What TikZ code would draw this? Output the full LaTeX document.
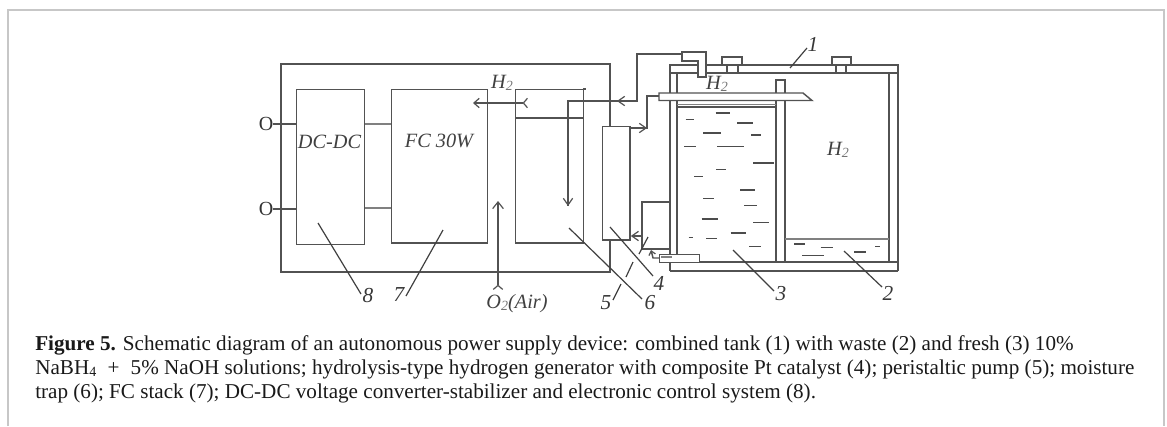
\documentclass[tikz,border=0pt]{standalone}
\usepackage{fontspec}
\setmainfont{Liberation Serif}
\usetikzlibrary{arrows.meta}
\tikzset{
  ln/.style={draw=black!68,line width=1.1pt,line join=miter},
  thin ln/.style={draw=black!50,line width=0.85pt},
  boxln/.style={ln,fill=white},
  leader/.style={draw=black!75,line width=0.9pt},
  flow/.style={ln,-{Straight Barb[length=5pt,width=7pt,line width=0.9pt]}},
  lab/.style={font=\fontsize{15.2}{16}\selectfont\itshape,text=black!75,inner sep=0pt},
  num/.style={font=\fontsize{16}{18}\selectfont\itshape,text=black!78,inner sep=0pt},
  term/.style={font=\fontsize{15}{16}\selectfont,text=black!80,inner sep=0pt},
  captext/.style={anchor=north west,align=left,inner sep=0pt,text=black!90,font=\fontsize{15.85}{18.1}\selectfont},
  fluid/.style={draw=black!70,line width=1pt},
}
\newcommand{\subtwo}{{\fontsize{10.5}{11}\selectfont\raisebox{-0.3ex}{\textcolor{black!55}{2}}}}
\begin{document}
\begin{tikzpicture}[x=0.75pt,y=-0.75pt]
\useasboundingbox (0,0) rectangle (1167,426);
% card frame
\draw[draw=black!22,line width=1.5pt] (8,426) -- (8,9.5) -- (1163.5,9.5) -- (1163.5,426);
% outer housing
\draw[ln] (610,126) -- (610,64) -- (281,64) -- (281,272) -- (610,272) -- (610,239);
% boxes
\node[boxln,anchor=north west,minimum width=51pt,minimum height=116pt,inner sep=0pt] (dc) at (296,89) {};
\node[boxln,anchor=north west,minimum width=72pt,minimum height=115pt,inner sep=0pt] (fc) at (391,89) {};
\node[boxln,anchor=north west,minimum width=51pt,minimum height=115pt,inner sep=0pt] (trap) at (515,89) {};
\node[boxln,anchor=north west,minimum width=20.5pt,minimum height=85pt,inner sep=0pt] (gen) at (602,126) {};
\draw[ln] (583,89) -- (586,89);
\draw[ln] (trap.west |- 0,118) -- (trap.east |- 0,118);
% block labels
\node[lab] (dcl) at (329.5,142) {DC-DC};
\node[lab] (fcl) at (439,141) {FC 30W};
% terminals
\node[term] (t1) at (266,124) {O};
\node[term] (t2) at (266,209) {O};
\draw[ln] (t1.east) -- (dc.west |- t1.east);
\draw[ln] (t2.east) -- (dc.west |- t2.east);
\draw[thin ln] (dc.east |- 0,124) -- (fc.west |- 0,124);
\draw[thin ln] (dc.east |- 0,208) -- (fc.west |- 0,208);
% H2 flow into stack
\coordinate (h2a) at (528,103);
\coordinate (h2b) at (473,103);
\draw[ln,{Straight Barb[reversed,length=3pt,width=7pt,line width=0.9pt]}-{Straight Barb[length=4pt,width=7pt,line width=0.9pt]}] (h2a) -- (h2b);
\node[lab] (h2l) at (502,83) {H\subtwo};
% O2
\node[lab] (o2l) at (517,304) {O\subtwo(Air)};
\coordinate (o2t) at (498,201);
\coordinate (o2b) at (498,290);
\draw[ln,{Straight Barb[reversed,length=3pt,width=7pt,line width=0.9pt]}-{Straight Barb[length=5pt,width=8pt,line width=0.9pt]}] (o2b) -- (o2t);
% tank
\draw[ln] (670,262) -- (670,65) -- (898,65) -- (898,271);
\draw[ln] (670,73) -- (898,73);
\draw[ln,line width=1.3pt] (670,271) -- (898,271);
\draw[ln] (670,262) -- (898,262);
\draw[ln] (670,262) -- (670,271);
\draw[ln] (677,73) -- (677,262);
\draw[ln] (889,73) -- (889,262);
\draw[ln] (776,262) -- (776,80) -- (785,80) -- (785,262);
\draw[ln] (677,107) -- (776,107);
\draw[thin ln] (677,104.5) -- (776,104.5);
\draw[thin ln] (785,239) -- (889,239);
% caps
\draw[ln] (722,65) -- (722,57) -- (742,57) -- (742,65);
\draw[ln] (727,65) -- (727,73) (738,65) -- (738,73);
\draw[ln] (832,65) -- (832,57) -- (851,57) -- (851,65);
\draw[ln] (836,65) -- (836,73) (846,65) -- (846,73);
% feed pipe and bent pipe
\draw[boxln] (659,93) -- (803,93) -- (812,100.5) -- (659,100.5) -- cycle;
\draw[boxln] (682,52) -- (706,52) -- (706,77) -- (698,77) -- (698,61) -- (682,61) -- cycle;
% small bottom pipe
\node[boxln,anchor=north west,minimum width=30pt,minimum height=6pt,inner sep=0pt] (sp) at (659,254) {};
\draw[thin ln] (661,257) -- (672,257);
% H2 line to trap
\coordinate (j1) at (682,54);
\coordinate (j2) at (637,54);
\coordinate (j3) at (637,101);
\coordinate (j4) at (568,101);
\coordinate (j5) at (568,206);
\draw[ln] (j1) -- (j2) -- (j3) -- (j4) -- (j5);
\draw[flow] (637,101) -- (617,101);
\draw[flow] (568,150) -- (j5);
% generator to feed pipe
\draw[ln] (647,129) -- (647,96) -- (659,96);
\draw[flow] (gen.east |- 0,128) -- (647,128);
% solution loop
\draw[ln] (670,202) -- (642,202) -- (642,250);
\draw[flow] (642,236) -- (gen.east |- 0,236);
\draw[ln] (642,249) -- (671,249);
\draw[ln,-{Straight Barb[length=3pt,width=5pt,line width=0.9pt]}] (659,258) -- (653,258) -- (651,250);
% solution marks
\foreach \a/\b/\c in {287/311/208,377/419/189,442/489/219,339/393/249,484/514/255,283/318/290,382/462/290,489/551/339,378/408/359,312/340/380,450/496/420,339/372/445,463/501/466,335/383/507,489/537/518,296/310/562,349/380/566,422/468/549,477/513/589,612/645/582,692/729/593,636/701/617,792/829/606,855/870/589}
  \draw[fluid] ({590+\a/3},{50+\c/3}) -- ({590+\b/3},{50+\c/3});
% tank H2 labels
\node[lab] (h2c) at (717,84) {H\subtwo};
\node[lab] (h2d) at (838,150) {H\subtwo};
% numbers
\node[num] (n1) at (813,44) {1};
\node[num] (n2) at (888,293) {2};
\node[num] (n3) at (781,294) {3};
\node[num] (n4) at (659,283) {4};
\node[num] (n5) at (606,303) {5};
\node[num] (n6) at (650,303) {6};
\node[num] (n7) at (399,295) {7};
\node[num] (n8) at (368,296) {8};
% leaders
\coordinate (l1) at (790,68);
\coordinate (l2) at (844,251);
\coordinate (l3) at (733,250);
\coordinate (l4) at (610,227);
\coordinate (l6) at (569,228);
\coordinate (l7) at (443,230);
\coordinate (l8) at (318,223);
\draw[leader] (l1) -- (807,48);
\draw[leader] (l2) -- (882,287);
\draw[leader] (l3) -- (774,291);
\draw[leader] (l4) -- (653,276);
\draw[leader] (l6) -- (642,299);
\draw[leader] (l7) -- (406,296);
\draw[leader] (l8) -- (361,294);
\draw[leader] (648,237) -- (639,254) (633,262) -- (626,277) (621,284) -- (613,300);
% caption
\node[captext] (caption) at (35,335) {\textbf{Figure 5.} Schematic diagram of an autonomous power supply device: combined tank (1) with waste (2) and fresh (3) 10\%\\
NaBH{\fontsize{10.5}{11}\selectfont\raisebox{-0.35ex}{4}}\hspace{4.5pt} + \hspace{4.5pt}5\% NaOH solutions; hydrolysis-type hydrogen generator with composite Pt catalyst (4); peristaltic pump (5); moisture\\
trap (6); FC stack (7); DC-DC voltage converter-stabilizer and electronic control system (8).};
\end{tikzpicture}
\end{document}
